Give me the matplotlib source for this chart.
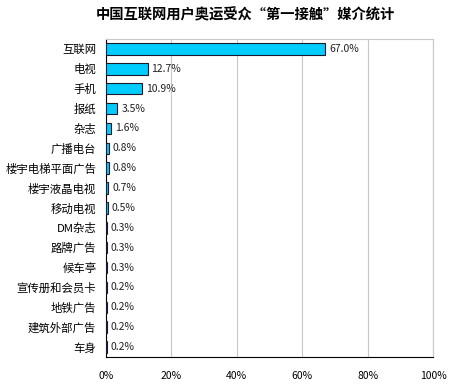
import matplotlib
matplotlib.use("Agg")
import matplotlib.pyplot as plt

plt.rcParams['font.family'] = ['Noto Sans CJK SC', 'DejaVu Sans']

categories = ["互联网", "电视", "手机", "报纸", "杂志", "广播电台", "楼宇电梯平面广告",
              "楼宇液晶电视", "移动电视", "DM杂志", "路牌广告", "候车亭",
              "宣传册和会员卡", "地铁广告", "建筑外部广告", "车身"]
values = [67.0, 12.7, 10.9, 3.5, 1.6, 0.8, 0.8, 0.7, 0.5, 0.3, 0.3, 0.3, 0.2, 0.2, 0.2, 0.2]
xticks = [0, 20, 40, 60, 80, 100]
title = "中国互联网用户奥运受众“第一接触”媒介统计"

fig = plt.figure(figsize=(4.5, 3.86), dpi=100)
ax = fig.add_axes([0.2356, 0.0751, 0.7267, 0.824])

y = list(range(len(categories)))
ax.barh(y, values, height=0.58, color='#00CCFF', edgecolor='#1a1a2e', linewidth=0.8, zorder=3)
for yi, v in zip(y, values):
    ax.text(v + 1.2, yi, f"{v:.1f}%", va='center', ha='left', fontsize=7.5, color='#222222')

ax.set_ylim(len(categories) - 0.5, -0.5)
ax.set_xlim(0, 100)
ax.set_yticks(y)
ax.set_yticklabels(categories, fontsize=8.2)
ax.set_xticks(xticks)
ax.set_xticklabels([f"{t}%" for t in xticks], fontsize=7.5)
ax.tick_params(axis='both', length=0)
ax.tick_params(axis='x', pad=10)
ax.tick_params(axis='y', pad=7)
ax.grid(axis='x', color='#c8c8c8', linewidth=0.8, zorder=0)
ax.spines['top'].set_color('#c8c8c8')
ax.spines['right'].set_color('#c8c8c8')
ax.spines['left'].set_color('black')
ax.spines['bottom'].set_color('black')

fig.text(0.545, 0.961, title, ha='center', va='center', fontsize=10.3, fontweight='bold')

fig.savefig("out.png", dpi=100)
